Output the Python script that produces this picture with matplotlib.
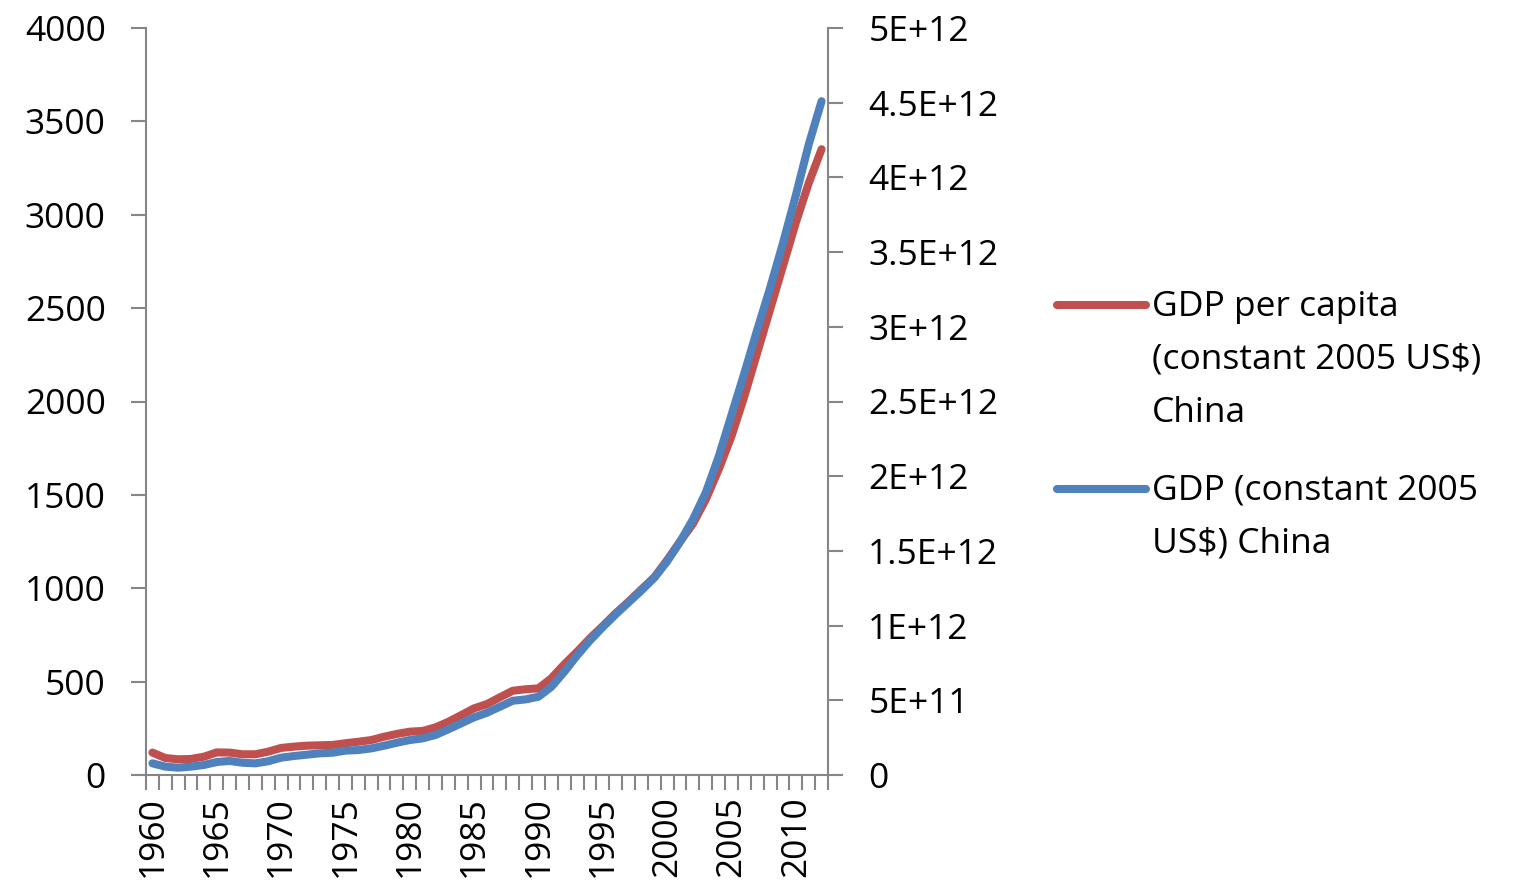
import numpy as np
import matplotlib
matplotlib.use("Agg")
import matplotlib.pyplot as plt
from matplotlib.lines import Line2D

plt.rcParams["font.family"] = ["Open Sans", "DejaVu Sans"]

# --- data -----------------------------------------------------------------
YEARS = list(range(1960, 2013))

# GDP per capita (constant 2005 US$), left axis
GDP_PER_CAPITA = [
    120, 91, 84, 86, 98, 121, 120, 111, 111, 125,
    145, 152, 157, 159, 161, 170, 178, 187, 205, 220,
    232, 236, 255, 285, 321, 357, 380, 416, 451, 459,
    464, 518, 592, 660, 732, 798, 866, 928, 994, 1059,
    1151, 1250, 1345, 1475, 1635, 1814, 2028, 2261, 2493, 2725,
    2958, 3169, 3351,
]

# GDP (constant 2005 US$), right axis, in units of 1e12
GDP_TOTAL_E12 = [
    0.078, 0.056, 0.049, 0.056, 0.067, 0.087, 0.094, 0.082, 0.078, 0.092,
    0.116, 0.127, 0.136, 0.145, 0.149, 0.163, 0.167, 0.178, 0.196, 0.216,
    0.234, 0.245, 0.268, 0.306, 0.346, 0.386, 0.417, 0.457, 0.497, 0.506,
    0.524, 0.590, 0.690, 0.800, 0.900, 0.990, 1.075, 1.155, 1.235, 1.320,
    1.430, 1.560, 1.710, 1.890, 2.130, 2.410, 2.690, 2.980, 3.260, 3.560,
    3.880, 4.220, 4.510,
]

LEFT_TICKS = [0, 500, 1000, 1500, 2000, 2500, 3000, 3500, 4000]
RIGHT_TICKS_E12 = [0, 0.5, 1, 1.5, 2, 2.5, 3, 3.5, 4, 4.5, 5]
RIGHT_TICK_LABELS = ["0", "5E+11", "1E+12", "1.5E+12", "2E+12", "2.5E+12",
                     "3E+12", "3.5E+12", "4E+12", "4.5E+12", "5E+12"]

LEGEND_RED = ["GDP per capita", "(constant 2005 US$)", "China"]
LEGEND_BLUE = ["GDP (constant 2005", "US$) China"]

RED = "#C0504D"
BLUE = "#4F81BD"
AXIS_GRAY = "#868686"
FS = 25.5

W, H = 1518, 892
fig = plt.figure(figsize=(W / 100, H / 100), dpi=100)
ax = fig.add_axes([146 / W, 1 - 775 / H, (828 - 146) / W, (775 - 28) / H])
ax2 = ax.twinx()

x = np.arange(len(YEARS))
gdp_total = np.array(GDP_TOTAL_E12) * 1e12

ax.plot(x, GDP_PER_CAPITA, color=RED, lw=5.8, solid_capstyle="round",
        solid_joinstyle="round")
ax2.plot(x, gdp_total, color=BLUE, lw=5.8, solid_capstyle="round",
         solid_joinstyle="round")

ax.set_xlim(-0.5, len(YEARS) - 0.5)
ax.set_ylim(0, 4000)
ax2.set_ylim(0, 5e12)

# x axis: labels every 5 years, tick marks between categories
label_idx = [i for i, yr in enumerate(YEARS) if yr % 5 == 0]
ax.set_xticks(label_idx)
ax.set_xticklabels([str(YEARS[i]) for i in label_idx], rotation=90,
                   fontsize=FS, va="top", ha="center")
ax.set_xticks(np.arange(-0.5, len(YEARS), 1.0), minor=True)
ax.tick_params(axis="x", which="major", length=0, pad=15)
ax.tick_params(axis="x", which="minor", length=11, width=1.5,
               color=AXIS_GRAY, direction="out")

ax.set_yticks(LEFT_TICKS)
ax.set_yticklabels([str(v) for v in LEFT_TICKS], fontsize=FS)
ax.tick_params(axis="y", length=11, width=1.5, color=AXIS_GRAY, pad=18)

ax2.set_yticks([v * 1e12 for v in RIGHT_TICKS_E12])
ax2.set_yticklabels(RIGHT_TICK_LABELS, fontsize=FS)
ax2.tick_params(axis="y", length=11, width=1.5, color=AXIS_GRAY, pad=18)

for s in ("top", "right"):
    ax.spines[s].set_visible(False)
for s in ("top", "left", "bottom"):
    ax2.spines[s].set_visible(False)
for a, names in ((ax, ("left", "bottom")), (ax2, ("right",))):
    for s in names:
        a.spines[s].set_color(AXIS_GRAY)
        a.spines[s].set_linewidth(1.5)

# legend, drawn by hand so the line sits on the first text row
def px(xp, yp):
    return xp / W, 1 - yp / H

for color, line_y, rows, base_y in ((RED, 305, LEGEND_RED, 316.5),
                                    (BLUE, 489, LEGEND_BLUE, 500)):
    (x0, y0), (x1, _) = px(1057, line_y), px(1146, line_y)
    fig.add_artist(Line2D([x0, x1], [y0, y0], color=color, lw=5.8,
                          solid_capstyle="round", transform=fig.transFigure))
    for k, row in enumerate(rows):
        tx, ty = px(1152, base_y + k * 52.5)
        fig.text(tx, ty, row, fontsize=FS, va="baseline", ha="left",
                 parse_math=False)

fig.savefig("out.png", dpi=100)
